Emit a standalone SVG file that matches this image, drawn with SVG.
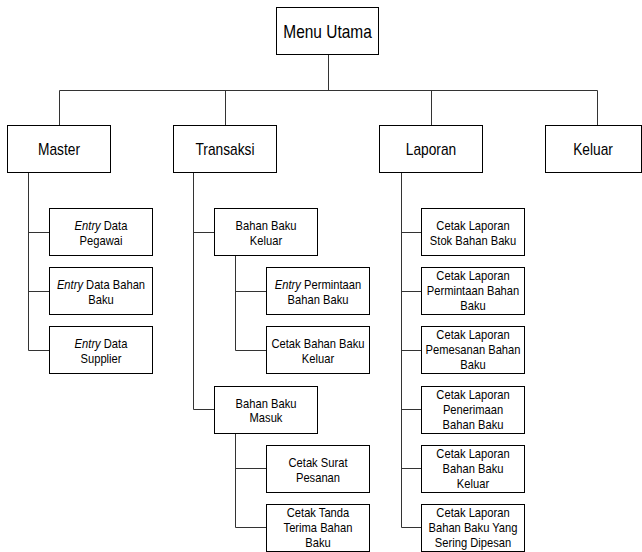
<svg xmlns="http://www.w3.org/2000/svg" width="642" height="552" viewBox="0 0 642 552">
  <style>
    .box { fill: #ffffff; stroke: #000000; stroke-width: 1; }
    .wire { fill: none; stroke: #333333; stroke-width: 1; }
    text { font-family: "Liberation Sans", Arial, sans-serif; fill: #000000; text-anchor: middle; }
    .t0 { font-size: 18px; }
    .t1 { font-size: 16px; }
    .t2 { font-size: 13px; }
    .em { font-style: italic; }
  </style>
  <rect x="0" y="0" width="642" height="552" fill="#ffffff"/>

  <!-- connectors -->
  <g id="connectors" class="wire">
    <path d="M328.5 54.5 V90.5 M59.5 90.5 H597.5 M59.5 90.5 V125.5 M225.5 90.5 V125.5 M431.5 90.5 V125.5 M597.5 90.5 V125.5"/>
    <!-- Master branch -->
    <path d="M28.5 173 V350.5 M28.5 232.5 H49.5 M28.5 291.5 H49.5 M28.5 350.5 H49.5"/>
    <!-- Transaksi branch -->
    <path d="M193.5 173 V409.5 M193.5 232.5 H214.5 M193.5 409.5 H214.5"/>
    <path d="M235.5 255.5 V350.5 M235.5 291.5 H266.5 M235.5 350.5 H266.5"/>
    <path d="M235.5 433.5 V527.5 M235.5 468.5 H266.5 M235.5 527.5 H266.5"/>
    <!-- Laporan branch -->
    <path d="M401.5 173 V527.5 M401.5 232.5 H421.5 M401.5 291.5 H421.5 M401.5 350.5 H421.5 M401.5 409.5 H421.5 M401.5 468.5 H421.5 M401.5 527.5 H421.5"/>
  </g>

  <!-- labels use a narrowed face: each label group is centred on its box and squeezed horizontally -->

  <!-- root -->
  <g id="menu-utama">
    <rect class="box" x="276.5" y="7.5" width="102" height="47"/>
    <g transform="translate(327.5 0) scale(0.86 1)"><text class="t0" x="0" y="38">Menu Utama</text></g>
  </g>

  <!-- first level -->
  <g id="master">
    <rect class="box" x="7.5" y="125.5" width="103" height="47"/>
    <g transform="translate(59 0) scale(0.86 1)"><text class="t1" x="0" y="155">Master</text></g>
  </g>
  <g id="transaksi">
    <rect class="box" x="173.5" y="125.5" width="103" height="47"/>
    <g transform="translate(225 0) scale(0.86 1)"><text class="t1" x="0" y="155">Transaksi</text></g>
  </g>
  <g id="laporan">
    <rect class="box" x="379.5" y="125.5" width="103" height="47"/>
    <g transform="translate(431 0) scale(0.86 1)"><text class="t1" x="0" y="155">Laporan</text></g>
  </g>
  <g id="keluar">
    <rect class="box" x="545.5" y="125.5" width="96" height="47"/>
    <g transform="translate(593 0) scale(0.86 1)"><text class="t1" x="0" y="155">Keluar</text></g>
  </g>

  <!-- Master children -->
  <g id="entry-pegawai">
    <rect class="box" x="49.5" y="208.5" width="103" height="47"/>
    <g transform="translate(101 0) scale(0.86 1)">
      <text class="t2" x="0" y="230.5"><tspan class="em">Entry</tspan> Data</text>
      <text class="t2" x="0" y="245.5">Pegawai</text>
    </g>
  </g>
  <g id="entry-bahan-baku">
    <rect class="box" x="49.5" y="267.5" width="103" height="47"/>
    <g transform="translate(101 0) scale(0.86 1)">
      <text class="t2" x="0" y="289.5"><tspan class="em">Entry</tspan> Data Bahan</text>
      <text class="t2" x="0" y="304.5">Baku</text>
    </g>
  </g>
  <g id="entry-supplier">
    <rect class="box" x="49.5" y="326.5" width="103" height="47"/>
    <g transform="translate(101 0) scale(0.86 1)">
      <text class="t2" x="0" y="348.5"><tspan class="em">Entry</tspan> Data</text>
      <text class="t2" x="0" y="363.5">Supplier</text>
    </g>
  </g>

  <!-- Transaksi children -->
  <g id="bahan-baku-keluar">
    <rect class="box" x="214.5" y="208.5" width="103" height="47"/>
    <g transform="translate(266 0) scale(0.86 1)">
      <text class="t2" x="0" y="230.5">Bahan Baku</text>
      <text class="t2" x="0" y="245.5">Keluar</text>
    </g>
  </g>
  <g id="entry-permintaan">
    <rect class="box" x="266.5" y="267.5" width="103" height="47"/>
    <g transform="translate(318 0) scale(0.86 1)">
      <text class="t2" x="0" y="289.5"><tspan class="em">Entry</tspan> Permintaan</text>
      <text class="t2" x="0" y="304.5">Bahan Baku</text>
    </g>
  </g>
  <g id="cetak-bahan-baku-keluar">
    <rect class="box" x="266.5" y="326.5" width="103" height="47"/>
    <g transform="translate(318 0) scale(0.86 1)">
      <text class="t2" x="0" y="348.5">Cetak Bahan Baku</text>
      <text class="t2" x="0" y="363.5">Keluar</text>
    </g>
  </g>
  <g id="bahan-baku-masuk">
    <rect class="box" x="214.5" y="386.5" width="103" height="47"/>
    <g transform="translate(266 0) scale(0.86 1)">
      <text class="t2" x="0" y="408">Bahan Baku</text>
      <text class="t2" x="0" y="422.5">Masuk</text>
    </g>
  </g>
  <g id="cetak-surat-pesanan">
    <rect class="box" x="266.5" y="445.5" width="103" height="47"/>
    <g transform="translate(318 0) scale(0.86 1)">
      <text class="t2" x="0" y="467.5">Cetak Surat</text>
      <text class="t2" x="0" y="482.5">Pesanan</text>
    </g>
  </g>
  <g id="cetak-tanda-terima">
    <rect class="box" x="266.5" y="504.5" width="103" height="47"/>
    <g transform="translate(318 0) scale(0.86 1)">
      <text class="t2" x="0" y="517">Cetak Tanda</text>
      <text class="t2" x="0" y="532">Terima Bahan</text>
      <text class="t2" x="0" y="547">Baku</text>
    </g>
  </g>

  <!-- Laporan children -->
  <g id="lap-stok">
    <rect class="box" x="421.5" y="208.5" width="103" height="47"/>
    <g transform="translate(473 0) scale(0.86 1)">
      <text class="t2" x="0" y="230.5">Cetak Laporan</text>
      <text class="t2" x="0" y="245.5">Stok Bahan Baku</text>
    </g>
  </g>
  <g id="lap-permintaan">
    <rect class="box" x="421.5" y="267.5" width="103" height="47"/>
    <g transform="translate(473 0) scale(0.86 1)">
      <text class="t2" x="0" y="280">Cetak Laporan</text>
      <text class="t2" x="0" y="295">Permintaan Bahan</text>
      <text class="t2" x="0" y="310">Baku</text>
    </g>
  </g>
  <g id="lap-pemesanan">
    <rect class="box" x="421.5" y="326.5" width="103" height="47"/>
    <g transform="translate(473 0) scale(0.86 1)">
      <text class="t2" x="0" y="339">Cetak Laporan</text>
      <text class="t2" x="0" y="354">Pemesanan Bahan</text>
      <text class="t2" x="0" y="369">Baku</text>
    </g>
  </g>
  <g id="lap-penerimaan">
    <rect class="box" x="421.5" y="386.5" width="103" height="47"/>
    <g transform="translate(473 0) scale(0.86 1)">
      <text class="t2" x="0" y="399">Cetak Laporan</text>
      <text class="t2" x="0" y="414">Penerimaan</text>
      <text class="t2" x="0" y="429">Bahan Baku</text>
    </g>
  </g>
  <g id="lap-keluar">
    <rect class="box" x="421.5" y="445.5" width="103" height="47"/>
    <g transform="translate(473 0) scale(0.86 1)">
      <text class="t2" x="0" y="458">Cetak Laporan</text>
      <text class="t2" x="0" y="473">Bahan Baku</text>
      <text class="t2" x="0" y="488">Keluar</text>
    </g>
  </g>
  <g id="lap-sering-dipesan">
    <rect class="box" x="421.5" y="504.5" width="103" height="47"/>
    <g transform="translate(473 0) scale(0.86 1)">
      <text class="t2" x="0" y="517">Cetak Laporan</text>
      <text class="t2" x="0" y="532">Bahan Baku Yang</text>
      <text class="t2" x="0" y="547">Sering Dipesan</text>
    </g>
  </g>
</svg>
